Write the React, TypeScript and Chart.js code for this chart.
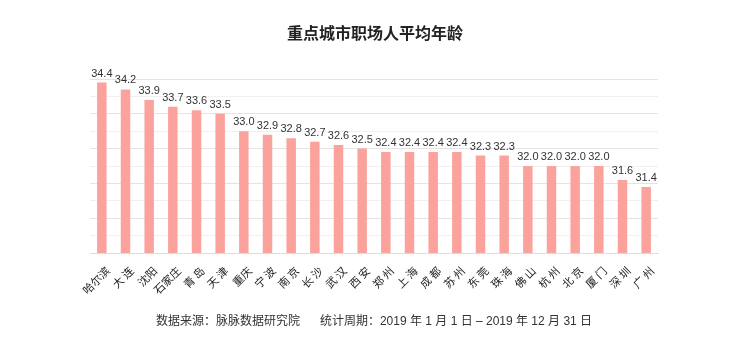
import React, { useEffect, useRef } from "react";
import { Chart, registerables } from "chart.js";

Chart.register(...registerables);

const TITLE = "重点城市职场人平均年龄";
const FOOTER = "数据来源：脉脉数据研究院      统计周期：2019 年 1 月 1 日 – 2019 年 12 月 31 日";

const cities = [
  "哈尔滨", "大 连", "沈阳", "石家庄", "青 岛", "天 津", "重庆", "宁 波",
  "南 京", "长 沙", "武 汉", "西 安", "郑 州", "上 海", "成 都", "苏 州",
  "东 莞", "珠 海", "佛 山", "杭 州", "北 京", "厦 门", "深 圳", "广 州",
];

const ages = [
  34.4, 34.2, 33.9, 33.7, 33.6, 33.5, 33.0, 32.9,
  32.8, 32.7, 32.6, 32.5, 32.4, 32.4, 32.4, 32.4,
  32.3, 32.3, 32.0, 32.0, 32.0, 32.0, 31.6, 31.4,
];

const Y_MIN = 29.5;
const Y_MAX = 34.5;
const Y_STEP = 0.5;

const FONT = '"Liberation Sans", "Noto Sans CJK SC", sans-serif';
const CJK = '"Noto Sans CJK SC", sans-serif';

const textPlugin = {
  id: "textPlugin",
  afterDraw(chart: any) {
    const ctx = chart.ctx;
    ctx.save();
    ctx.fillStyle = "#222";
    ctx.font = `bold 16px ${CJK}`;
    ctx.textAlign = "center";
    ctx.textBaseline = "middle";
    ctx.fillText(TITLE, 375, 33);

    ctx.fillStyle = "#333";
    ctx.font = `12px ${FONT}`;
    ctx.fillText(FOOTER, 374, 322);

    const meta = chart.getDatasetMeta(0);
    ctx.font = `11px ${FONT}`;
    ctx.textAlign = "center";
    ctx.textBaseline = "middle";
    ctx.fillStyle = "#333";
    meta.data.forEach((bar: any, i: number) => {
      ctx.fillText(ages[i].toFixed(1), bar.x, bar.y - 9);
    });
    ctx.restore();
  },
};

export default function App() {
  const ref = useRef<HTMLCanvasElement>(null);
  useEffect(() => {
    document.body.style.margin = "0";
    const chart = new Chart(ref.current!, {
      type: "bar",
      data: {
        labels: cities,
        datasets: [
          {
            data: ages,
            backgroundColor: "#fba29c",
            barPercentage: 0.8,
            categoryPercentage: 0.5,
          },
        ],
      },
      options: {
        animation: false,
        responsive: false,
        layout: { padding: { top: 79, left: 90, right: 92, bottom: 0 } },
        plugins: { legend: { display: false }, tooltip: { enabled: false }, title: { display: false } },
        scales: {
          x: {
            grid: { display: false },
            border: { display: true, color: "#dddddd" },
            ticks: {
              minRotation: 45,
              maxRotation: 45,
              autoSkip: false,
              color: "#222",
              font: { size: 11, family: CJK },
              padding: 3,
              labelOffset: 6,
            },
            afterFit: (s: any) => {
              s.height = 352 - 253;
            },
          },
          y: {
            min: Y_MIN,
            max: Y_MAX,
            ticks: { display: false, stepSize: Y_STEP },
            border: { display: false },
            grid: {
              drawTicks: false,
              color: (c: any) => (c.index % 2 === 0 ? "#e4e4e4" : "#f0f0f0"),
            },
            afterFit: (s: any) => {
              s.width = 0;
            },
          },
        },
      },
      plugins: [textPlugin],
    });
    return () => chart.destroy();
  }, []);
  return (
    <div style={{ width: 750, height: 352, background: "#fff" }}>
      <canvas ref={ref} width={750} height={352} />
    </div>
  );
}
